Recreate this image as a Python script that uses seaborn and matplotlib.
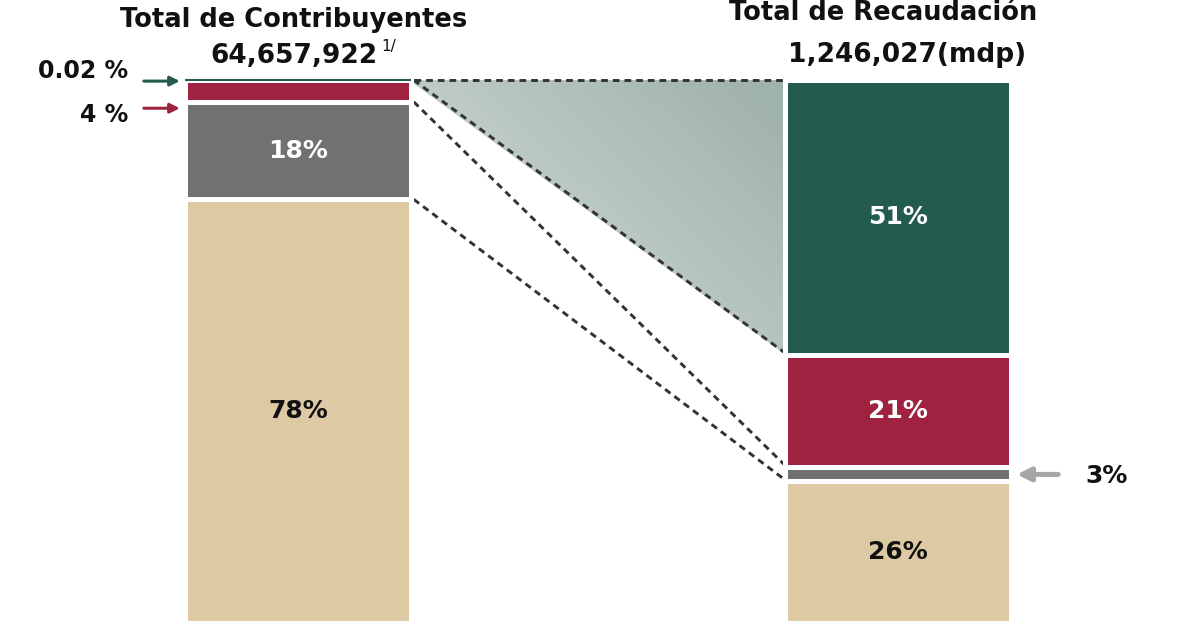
import numpy as np
import pandas as pd
import matplotlib
matplotlib.use("Agg")
import matplotlib.pyplot as plt
import seaborn as sns
from matplotlib.colors import to_rgb
from matplotlib.patches import Polygon

# ---------------- data ----------------
bars = ["Contribuyentes", "Recaudación"]
segments = ["Tan", "Gris", "Rojo", "Verde"]          # bottom -> top
contribuyentes = [78.0, 17.98, 4.0, 0.02]           # % of taxpayers
recaudacion = [26.0, 2.6, 20.8, 50.6]               # % of collection
contrib_labels = ["78%", "18%", "", ""]
recaud_labels = ["26%", "", "21%", "51%"]
seg_colors = ["#ddc9a3", "#6f7271", "#9f2241", "#235b4e"]
label_colors = ["#111111", "#ffffff", "#ffffff", "#ffffff"]
title_left = "Total de Contribuyentes"
total_left = "64,657,922"
title_right = "Total de Recaudación"
total_right = "1,246,027(mdp)"

df = pd.DataFrame({
    "barra": np.repeat(bars, len(segments)),
    "segmento": segments * 2,
    "valor": contribuyentes + recaudacion,
})

sns.set_theme(style="white")
plt.rcParams["font.family"] = ["DejaVu Sans"]

W, H = 1179, 635
fig = plt.figure(figsize=(W / 100, H / 100), dpi=100)
ax = fig.add_axes([0, 0, 1, 1])

bar_w = 0.378
gap_lw = 3.6  # white separators (pt)

for b_i, b in enumerate(bars):
    sub = df[df["barra"] == b]
    bottom = 0.0
    for s_i, s in enumerate(segments):
        v = float(sub.loc[sub["segmento"] == s, "valor"].iloc[0])
        tiny = v < 0.5
        sns.barplot(x=[b], y=[v], order=bars, color=seg_colors[s_i],
                    saturation=1, width=bar_w, errorbar=None, ax=ax,
                    bottom=bottom,
                    edgecolor=seg_colors[s_i] if tiny else "white",
                    linewidth=1.5 if tiny else gap_lw, zorder=3)
        bottom += v

# labels inside bars
for b_i, (vals, labs) in enumerate([(contribuyentes, contrib_labels),
                                    (recaudacion, recaud_labels)]):
    cum = np.cumsum([0] + vals[:-1])
    for s_i, (v, lab, c0) in enumerate(zip(vals, labs, cum)):
        if lab:
            ax.text(b_i, c0 + v / 2, lab, ha="center", va="center",
                    fontsize=18, fontweight="bold", color=label_colors[s_i],
                    zorder=5)

ax.set_xlim(-0.4967, 1.4683)
ax.set_ylim(-2.30, 114.75)
ax.axis("off")

# connection geometry
vis_half = bar_w / 2 - 2.5 / 600
x0 = 0 + vis_half + 0.008
x1 = 1 - vis_half
x1w = 1 - bar_w / 2 + 0.001
cl = np.cumsum(contribuyentes)   # tops of left segments
cr = np.cumsum(recaudacion)      # tops of right segments

# gradient wedge
poly = [(x0 - 0.008, cl[-1]), (x1w, cr[-1]), (x1w, cr[-2]), (x0 - 0.008, cl[-2])]
light = np.array(to_rgb("#d8e0de"))
dark = np.array(to_rgb("#a0b2ad"))
nx, ny = 200, 200
u = np.linspace(0, 1, nx)[None, :]
vv = np.linspace(0, 1, ny)[:, None]
t = np.clip(0.6 * u + 0.45 * vv, 0, 1)
img = light[None, None, :] * (1 - t[..., None]) + dark[None, None, :] * t[..., None]
im = ax.imshow(img, extent=(x0 - 0.008, x1w, cr[-2], cr[-1]), origin="lower",
               aspect="auto", zorder=1, interpolation="bilinear")
patch = Polygon(poly, closed=True, transform=ax.transData, facecolor="none",
                edgecolor="none")
ax.add_patch(patch)
im.set_clip_path(patch)
ax.set_xlim(-0.4967, 1.4683)
ax.set_ylim(-2.30, 114.75)

dash_kw = dict(color="#333333", lw=2.1, linestyle=(0, (2.3, 1.7)), zorder=2.5,
               solid_capstyle="butt", dash_capstyle="butt")
ax.plot([x0, x1], [cl[-1], cr[-1]], **dash_kw)
ax.plot([x0, x1], [cl[-2], cr[-2]], **dash_kw)
ax.plot([x0, x1], [cl[-3], cr[-3]], **dash_kw)
ax.plot([x0, x1], [cl[-4], cr[-4]], **dash_kw)

# arrows + small labels (left)
ax.annotate("", xy=(-0.197, 99.8), xytext=(-0.257, 99.8),
            arrowprops=dict(arrowstyle="-|>", color=seg_colors[3], lw=2.2,
                            mutation_scale=14, shrinkA=0, shrinkB=0))
ax.annotate("", xy=(-0.197, 94.8), xytext=(-0.257, 94.8),
            arrowprops=dict(arrowstyle="-|>", color=seg_colors[2], lw=2.2,
                            mutation_scale=14, shrinkA=0, shrinkB=0))
ax.text(-0.283, 101.6, "0.02 %", ha="right", va="center", fontsize=17,
        fontweight="bold", color="#111111")
ax.text(-0.283, 93.6, "4 %", ha="right", va="center", fontsize=17,
        fontweight="bold", color="#111111")

# right arrow + label
ax.annotate("", xy=(1.198, cr[0] + recaudacion[1] / 2),
            xytext=(1.267, cr[0] + recaudacion[1] / 2),
            arrowprops=dict(arrowstyle="-|>", color="#a6a6a6", lw=3.6,
                            mutation_scale=20, shrinkA=0, shrinkB=0))
ax.text(1.313, cr[0] + recaudacion[1] / 2 - 0.3, "3%", ha="left", va="center",
        fontsize=18, fontweight="bold", color="#111111")

# titles
def fx(px):
    return px / W

def fy(py):
    return 1 - py / H

fig.text(fx(294), fy(27), title_left, ha="center", va="baseline",
         fontsize=18.5, fontweight="bold", color="#111111")
fig.text(fx(294), fy(63), total_left, ha="center", va="baseline",
         fontsize=19, fontweight="bold", color="#111111")
fig.text(fx(381), fy(51), "1/", ha="left", va="baseline", fontsize=11,
         color="#111111")
fig.text(fx(883), fy(20), title_right, ha="center", va="baseline",
         fontsize=18.5, fontweight="bold", color="#111111")
fig.text(fx(907), fy(62), total_right, ha="center", va="baseline",
         fontsize=19, fontweight="bold", color="#111111")

fig.savefig("out.png", dpi=100, facecolor="white")
